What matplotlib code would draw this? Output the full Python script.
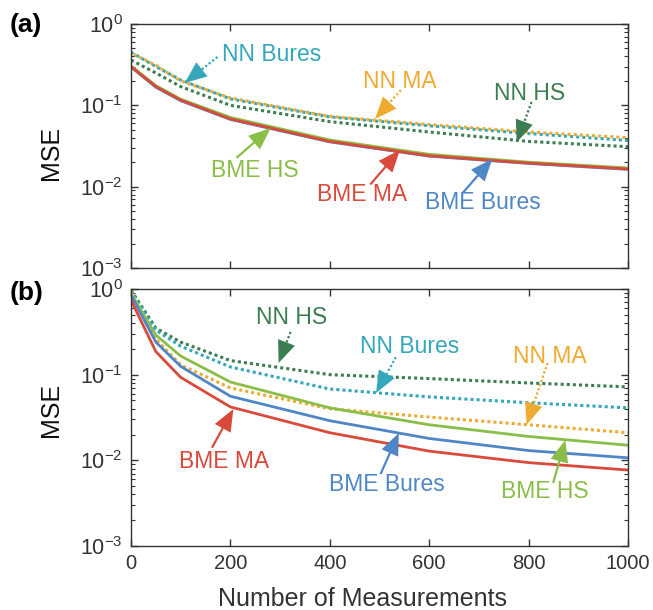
import numpy as np
import matplotlib.pyplot as plt
from matplotlib.ticker import LogLocator, NullFormatter

plt.rcParams['font.family'] = ['Liberation Sans', 'DejaVu Sans']
plt.rcParams['mathtext.default'] = 'regular'

# measurement counts
n_meas = [0, 50, 100, 200, 400, 600, 800, 1000]

# panel (a) MSE values
a_bme_ma = [0.30, 0.17, 0.116, 0.068, 0.036, 0.024, 0.0195, 0.0165]
a_bme_bures = [0.295, 0.167, 0.114, 0.067, 0.0355, 0.0237, 0.0193, 0.0163]
a_bme_hs = [0.305, 0.175, 0.119, 0.071, 0.0375, 0.025, 0.0200, 0.0170]
a_nn_ma = [0.44, 0.31, 0.20, 0.123, 0.073, 0.058, 0.047, 0.040]
a_nn_bures = [0.45, 0.30, 0.205, 0.120, 0.072, 0.056, 0.045, 0.037]
a_nn_hs = [0.36, 0.25, 0.17, 0.100, 0.063, 0.047, 0.036, 0.031]

# panel (b) MSE values
b_bme_ma = [0.74, 0.186, 0.093, 0.042, 0.021, 0.0128, 0.0094, 0.0077]
b_bme_bures = [0.85, 0.24, 0.125, 0.056, 0.029, 0.018, 0.013, 0.0107]
b_bme_hs = [0.88, 0.29, 0.165, 0.082, 0.041, 0.026, 0.019, 0.015]
b_nn_ma = [0.92, 0.26, 0.13, 0.070, 0.040, 0.032, 0.026, 0.021]
b_nn_bures = [0.95, 0.33, 0.215, 0.123, 0.068, 0.055, 0.047, 0.041]
b_nn_hs = [0.97, 0.35, 0.24, 0.146, 0.100, 0.090, 0.080, 0.072]

c_red = '#D94A3A'
c_blue = '#4F86C6'
c_lgreen = '#8ABE48'
c_dgreen = '#3D7D52'
c_cyan = '#34A8BA'
c_orange = '#EFAA32'
dots = (0, (1.0, 1.0))

# (label, colour, dotted, text xy, tail xy, tip xy) in data units
notes_a = [
    ('NN Bures', c_cyan, True, (283, 0.416), (174, 0.393), (108, 0.188)),
    ('NN MA', c_orange, True, (541, 0.199), (543, 0.154), (491, 0.068)),
    ('NN HS', c_dgreen, True, (802, 0.138), (806, 0.110), (776, 0.035)),
    ('BME HS', c_lgreen, False, (250, 0.0159), (214, 0.0231), (281, 0.0525)),
    ('BME MA', c_red, False, (465, 0.0079), (483, 0.0109), (541, 0.0282)),
    ('BME Bures', c_blue, False, (707, 0.0063), (669, 0.0086), (727, 0.0219)),
]
notes_b = [
    ('NN HS', c_dgreen, True, (323, 0.459), (321, 0.315), (297, 0.137)),
    ('NN Bures', c_cyan, True, (561, 0.211), (533, 0.160), (493, 0.0611)),
    ('NN MA', c_orange, True, (842, 0.165), (838, 0.137), (796, 0.0260)),
    ('BME MA', c_red, False, (188, 0.0098), (164, 0.0144), (206, 0.0397)),
    ('BME Bures', c_blue, False, (515, 0.0052), (503, 0.0071), (539, 0.0209)),
    ('BME HS', c_lgreen, False, (832, 0.0043), (850, 0.0056), (874, 0.0173)),
]


def style_axes(ax, show_xlabels):
    ax.set_yscale('log')
    ax.set_xlim(0, 1000)
    ax.set_ylim(1e-3, 1)
    ax.set_xticks([0, 200, 400, 600, 800, 1000])
    ax.yaxis.set_major_locator(LogLocator(base=10, numticks=10))
    ax.yaxis.set_minor_locator(LogLocator(base=10, subs=np.arange(2, 10), numticks=10))
    ax.yaxis.set_minor_formatter(NullFormatter())
    ax.tick_params(which='both', direction='in', top=True, right=True,
                   colors='#333333', pad=6)
    ax.tick_params(axis='x', labelsize=14.5)
    ax.tick_params(axis='y', labelsize=15.5)
    ax.tick_params(which='major', length=5, width=1)
    ax.tick_params(which='minor', length=3, width=0.8)
    if not show_xlabels:
        ax.tick_params(axis='x', labelbottom=False)
    for s in ax.spines.values():
        s.set_color('#333333')
        s.set_linewidth(1.0)


def draw_note(ax, label, color, dotted, txt, tail, tip):
    hl, hw = 22.0, 18.0
    t = ax.transData
    p0 = t.transform(tail)
    p1 = t.transform(tip)
    d = p1 - p0
    u = d / np.hypot(d[0], d[1])
    n = np.array([-u[1], u[0]])
    base = p1 - u * hl
    tri = np.array([p1, base + n * hw / 2, base - n * hw / 2])
    tri_d = t.inverted().transform(tri)
    base_d = t.inverted().transform([base])[0]
    ax.plot([tail[0], base_d[0]], [tail[1], base_d[1]], color=color,
            ls=dots if dotted else '-', lw=1.6, zorder=5)
    ax.fill(tri_d[:, 0], tri_d[:, 1], color=color, lw=0, zorder=6)
    ax.text(txt[0], txt[1], label, color=color, fontsize=16.5,
            ha='center', va='center', zorder=7)


fig = plt.figure(figsize=(6.53, 6.10), dpi=100)
ax_a = fig.add_axes([131 / 653, 1 - 268 / 610, 497 / 653, 244 / 610])
ax_b = fig.add_axes([131 / 653, 1 - 546 / 610, 497 / 653, 257 / 610])

# panel (a)
ax_a.plot(n_meas, a_nn_hs, color=c_dgreen, ls=dots, lw=2.2)
ax_a.plot(n_meas, a_nn_bures, color=c_cyan, ls=dots, lw=2.2)
ax_a.plot(n_meas, a_nn_ma, color=c_orange, ls=(1, (1.0, 1.0)), lw=2.2)
ax_a.plot(n_meas, a_bme_bures, color=c_blue, lw=2.0)
ax_a.plot(n_meas, a_bme_hs, color=c_lgreen, lw=2.0)
ax_a.plot(n_meas, a_bme_ma, color=c_red, lw=2.0)
style_axes(ax_a, False)
for nt in notes_a:
    draw_note(ax_a, *nt)

# panel (b)
ax_b.plot(n_meas, b_nn_hs, color=c_dgreen, ls=dots, lw=2.2)
ax_b.plot(n_meas, b_nn_bures, color=c_cyan, ls=dots, lw=2.2)
ax_b.plot(n_meas, b_nn_ma, color=c_orange, ls=dots, lw=2.2)
ax_b.plot(n_meas, b_bme_hs, color=c_lgreen, lw=2.0)
ax_b.plot(n_meas, b_bme_bures, color=c_blue, lw=2.0)
ax_b.plot(n_meas, b_bme_ma, color=c_red, lw=2.0)
style_axes(ax_b, True)
for nt in notes_b:
    draw_note(ax_b, *nt)

for ax, yc in ((ax_a, 0.47), (ax_b, 0.53)):
    ax.set_ylabel('MSE', fontsize=18, color='#111111')
    ax.yaxis.set_label_coords(-0.137, yc)

fig.text(362 / 653, 1 - 599 / 610, 'Number of Measurements', fontsize=18,
         color='#333333', ha='center', va='center')
fig.text(0.015, 1 - 25 / 610, '(a)', fontsize=19, fontweight='bold',
         ha='left', va='center')
fig.text(0.015, 1 - 293 / 610, '(b)', fontsize=19, fontweight='bold',
         ha='left', va='center')

fig.savefig('out.png', dpi=100)
